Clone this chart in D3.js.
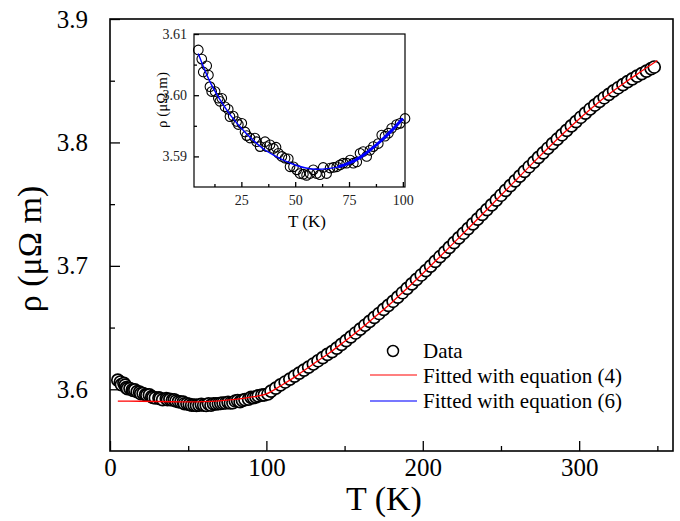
<!DOCTYPE html>
<html>
<head>
<meta charset="utf-8">
<script src="https://cdn.jsdelivr.net/npm/d3@7/dist/d3.min.js"></script>
<style>
  body { margin: 0; background: #fff; }
</style>
</head>
<body>
<svg id="chart"></svg>
<script>
// measured resistivity, T in K, rho in micro-ohm m
var tempK = [5.0, 6.6, 7.3, 8.9, 9.7, 10.4, 11.2, 12.8, 14.3, 15.0, 15.9, 17.4, 18.9, 19.7, 21.2, 22.8, 23.6, 25.2,
  26.7, 27.5, 29.0, 31.3, 32.1, 33.7, 36.0, 36.8, 38.3, 39.9, 41.1, 42.2, 43.8, 45.3, 46.8, 47.6, 49.2, 50.7, 52.2,
  53.8, 55.3, 56.9, 58.4, 59.9, 61.5, 63.0, 64.6, 66.2, 67.7, 69.3, 70.8, 72.3, 73.9, 75.5, 77.0, 78.6, 80.1, 81.6,
  83.2, 84.7, 86.3, 88.6, 90.2, 91.7, 93.3, 94.8, 97.1, 98.7, 101.0,
  103, 106, 109, 112, 115, 118, 121, 124, 127, 130, 133, 136, 139, 142, 145, 148, 151, 154, 157, 160, 163, 166, 169,
  172, 175, 178, 181, 184, 187, 190, 193, 196, 199, 202, 205, 208, 211, 214, 217, 220, 223, 226, 229, 232, 235, 238,
  241, 244, 247, 250, 253, 256, 259, 262, 265, 268, 271, 274, 277, 280, 283, 286, 289, 292, 295, 298, 301, 304, 307,
  310, 313, 316, 319, 322, 325, 328, 331, 334, 337, 340, 343, 346, 348];
var rhoMeas = [3.6074, 3.6059, 3.6038, 3.6048, 3.6033, 3.6014, 3.6006, 3.6006, 3.5995, 3.5990, 3.5995, 3.5981, 3.5977,
  3.5965, 3.5966, 3.5957, 3.5952, 3.5954, 3.5940, 3.5934, 3.5930, 3.5930, 3.5924, 3.5916, 3.5924, 3.5916, 3.5919,
  3.5913, 3.5915, 3.5905, 3.5900, 3.5897, 3.5896, 3.5883, 3.5883, 3.5878, 3.5872, 3.5871, 3.5869, 3.5872, 3.5878,
  3.5872, 3.5870, 3.5882, 3.5872, 3.5881, 3.5882, 3.5883, 3.5886, 3.5889, 3.5889, 3.5894, 3.5889, 3.5891, 3.5905,
  3.5908, 3.5900, 3.5910, 3.5916, 3.5921, 3.5935, 3.5933, 3.5938, 3.5946, 3.5952, 3.5954, 3.5962,
  3.5985, 3.6010, 3.6035, 3.6059, 3.6083, 3.6107, 3.6131, 3.6155, 3.6180, 3.6205, 3.6231, 3.6257, 3.6283, 3.6305,
  3.6334, 3.6364, 3.6394, 3.6425, 3.6456, 3.6487, 3.6519, 3.6550, 3.6582, 3.6614, 3.6647, 3.6680, 3.6713, 3.6747,
  3.6782, 3.6818, 3.6854, 3.6890, 3.6926, 3.6962, 3.6998, 3.7036, 3.7074, 3.7112, 3.7150, 3.7188, 3.7226, 3.7264,
  3.7302, 3.7340, 3.7378, 3.7417, 3.7456, 3.7494, 3.7533, 3.7572, 3.7611, 3.7650, 3.7689, 3.7727, 3.7765, 3.7803,
  3.7841, 3.7879, 3.7916, 3.7953, 3.7990, 3.8026, 3.8062, 3.8098, 3.8134, 3.8169, 3.8204, 3.8238, 3.8271, 3.8303,
  3.8333, 3.8362, 3.8390, 3.8417, 3.8443, 3.8468, 3.8492, 3.8515, 3.8537, 3.8558, 3.8578, 3.8598, 3.8611];

// fit with equation (4), whole range
var fitT4 = [5, 20, 40, 50, 60, 70, 80, 90, 100, 110, 120, 130, 140, 150, 160, 170, 180, 190, 200, 210, 220, 230,
  240, 250, 260, 270, 280, 290, 300, 310, 320, 330, 340, 350];
var rhoFit4 = [3.5904, 3.5903, 3.5899, 3.5898, 3.5900, 3.5906, 3.5918, 3.5936, 3.5962, 3.6035, 3.6115, 3.6205,
  3.6292, 3.6388, 3.6487, 3.6593, 3.6702, 3.6818, 3.6938, 3.7062, 3.7188, 3.7315, 3.7443, 3.7572, 3.7700, 3.7828,
  3.7953, 3.8074, 3.8190, 3.8300, 3.8400, 3.8492, 3.8578, 3.8664];

// fit with equation (6), low temperature only
var fitT6 = [5, 10, 15, 20, 25, 30, 35, 40, 45, 50, 55, 60, 65, 70, 75, 80, 85, 90, 95, 100];
var rhoFit6 = [3.6068, 3.6025, 3.5993, 3.5967, 3.5946, 3.5928, 3.5913, 3.5902, 3.5893, 3.5886, 3.5881, 3.5879,
  3.5880, 3.5883, 3.5889, 3.5898, 3.5911, 3.5926, 3.5943, 3.5962];

var xMajor = [0, 100, 200, 300], xMinor = [50, 150, 250, 350];
var yMajor = [3.6, 3.7, 3.8, 3.9], yMinor = [3.65, 3.75, 3.85];
var inXMajor = [25, 50, 75, 100], inXMinor = [12.5, 37.5, 62.5, 87.5];
var inYMajor = [3.59, 3.60, 3.61], inYMinor = [3.595, 3.605];
var legendLabels = ["Data", "Fitted with equation (4)", "Fitted with equation (6)"];

var serif = '"Liberation Serif", "Times New Roman", Times, "DejaVu Serif", serif';
var width = 680, height = 521;
var chart = d3.select('#chart').attr('width', width).attr('height', height);

var pts = tempK.map(function(t, i){ return {t: t, r: rhoMeas[i]}; });
var fit4 = fitT4.map(function(t, i){ return {t: t, r: rhoFit4[i]}; });
var fit6 = fitT6.map(function(t, i){ return {t: t, r: rhoFit6[i]}; });

// ---- main panel
var x = d3.scaleLinear().domain([0, 360]).range([110, 673]);
var y = d3.scaleLinear().domain([3.55, 3.9]).range([451, 19]);

function drawTicks(g){
  g.select('.domain').remove();
  g.attr('font-family', null);
  g.selectAll('line').attr('stroke', '#000').attr('stroke-width', 1.3);
}

chart.append('g')
  .attr('transform', 'translate(0,451)')
  .call(d3.axisBottom(x).tickValues(xMinor).tickSize(-5).tickFormat(''))
  .call(drawTicks);
chart.append('g')
  .attr('transform', 'translate(0,451)')
  .call(d3.axisBottom(x).tickValues(xMajor).tickSize(-10).tickPadding(20).tickFormat(d3.format('d')))
  .call(drawTicks)
  .selectAll('text').attr('font-size', 25).attr('dy', '0.2em');
chart.append('g')
  .attr('transform', 'translate(110,0)')
  .call(d3.axisLeft(y).tickValues(yMinor).tickSize(-5).tickFormat(''))
  .call(drawTicks);
chart.append('g')
  .attr('transform', 'translate(110,0)')
  .call(d3.axisLeft(y).tickValues(yMajor).tickSize(-10).tickPadding(22).tickFormat(d3.format('.1f')))
  .call(drawTicks)
  .selectAll('text').attr('font-size', 25);

chart.append('rect')
  .attr('x', 110).attr('y', 19).attr('width', 563).attr('height', 432)
  .attr('fill', 'none').attr('stroke', '#000').attr('stroke-width', 1.6);

chart.append('text')
  .attr('x', 384).attr('y', 510)
  .attr('text-anchor', 'middle').attr('font-size', 34)
  .text('T (K)');
chart.append('text')
  .attr('transform', 'translate(41,249) rotate(-90)')
  .attr('text-anchor', 'middle').attr('font-size', 34)
  .text('ρ (μΩ m)');

chart.append('g').selectAll('circle')
  .data(pts)
  .enter().append('circle')
  .attr('cx', function(d){ return x(d.t); })
  .attr('cy', function(d){ return y(d.r); })
  .attr('r', 6)
  .attr('fill', '#fff')
  .attr('stroke', '#000')
  .attr('stroke-width', 1.7);

var line = d3.line()
  .x(function(d){ return x(d.t); })
  .y(function(d){ return y(d.r); })
  .curve(d3.curveMonotoneX);

chart.append('path')
  .datum(fit4)
  .attr('d', line)
  .attr('fill', 'none')
  .attr('stroke', '#ff0000')
  .attr('stroke-width', 1.3);

// ---- legend
var legend = chart.append('g').attr('id', 'legend');
legend.append('circle')
  .attr('cx', 393).attr('cy', 351).attr('r', 5.5)
  .attr('fill', '#fff').attr('stroke', '#000').attr('stroke-width', 1.5);
legend.append('line')
  .attr('x1', 370).attr('x2', 417).attr('y1', 375).attr('y2', 375)
  .attr('stroke', '#ff0000').attr('stroke-width', 1.2);
legend.append('line')
  .attr('x1', 370).attr('x2', 417).attr('y1', 401).attr('y2', 401)
  .attr('stroke', '#4a4aff').attr('stroke-width', 1.4);
legend.selectAll('text')
  .data(legendLabels)
  .enter().append('text')
  .attr('x', 423)
  .attr('y', function(d, i){ return [351, 376, 401][i]; })
  .attr('dy', '0.35em')
  .attr('font-size', 21)
  .text(function(d){ return d; });

// ---- inset
var ix = d3.scaleLinear().domain([3, 101]).range([194, 405]);
var iy = d3.scaleLinear().domain([3.585, 3.61]).range([187, 34]);
var inset = chart.append('g').attr('id', 'inset');

inset.append('rect')
  .attr('x', 194).attr('y', 34).attr('width', 211).attr('height', 153)
  .attr('fill', '#fff');

inset.append('g')
  .attr('transform', 'translate(0,187)')
  .call(d3.axisBottom(ix).tickValues(inXMinor).tickSize(-3).tickFormat(''))
  .call(drawTicks);
inset.append('g')
  .attr('transform', 'translate(0,187)')
  .call(d3.axisBottom(ix).tickValues(inXMajor).tickSize(-5).tickPadding(8).tickFormat(d3.format('d')))
  .call(drawTicks)
  .selectAll('text').attr('font-size', 14).attr('fill', '#222');
inset.append('g')
  .attr('transform', 'translate(194,0)')
  .call(d3.axisLeft(iy).tickValues(inYMinor).tickSize(-3).tickFormat(''))
  .call(drawTicks);
inset.append('g')
  .attr('transform', 'translate(194,0)')
  .call(d3.axisLeft(iy).tickValues(inYMajor).tickSize(-5).tickPadding(7).tickFormat(d3.format('.2f')))
  .call(drawTicks)
  .selectAll('text').attr('font-size', 14).attr('fill', '#222');

inset.append('text')
  .attr('x', 307).attr('y', 227)
  .attr('text-anchor', 'middle').attr('font-size', 17)
  .text('T (K)');
inset.append('text')
  .attr('transform', 'translate(167,100) rotate(-90)')
  .attr('text-anchor', 'middle').attr('font-size', 15)
  .text('ρ (μΩ m)');

var ipts = pts.filter(function(d){ return d.t <= 101; });
inset.append('g').selectAll('circle')
  .data(ipts)
  .enter().append('circle')
  .attr('cx', function(d){ return ix(d.t); })
  .attr('cy', function(d){ return iy(d.r); })
  .attr('r', 4.8)
  .attr('fill', 'none')
  .attr('stroke', '#000')
  .attr('stroke-width', 1.1);

var iline = d3.line()
  .x(function(d){ return ix(d.t); })
  .y(function(d){ return iy(d.r); })
  .curve(d3.curveMonotoneX);

inset.append('path')
  .datum(fit6)
  .attr('d', iline)
  .attr('fill', 'none')
  .attr('stroke', '#0000ff')
  .attr('stroke-width', 1.4);
inset.append('path')
  .datum(fit6.filter(function(d){ return d.t >= 70; }))
  .attr('d', iline)
  .attr('fill', 'none')
  .attr('stroke', '#0000ff')
  .attr('stroke-width', 3);

inset.append('rect')
  .attr('x', 194).attr('y', 34).attr('width', 211).attr('height', 153)
  .attr('fill', 'none').attr('stroke', '#000').attr('stroke-width', 1.2);

chart.selectAll('text').style('font-family', serif).style('fill', function(){ return d3.select(this).attr('fill') || '#000'; });
</script>
</body>
</html>
